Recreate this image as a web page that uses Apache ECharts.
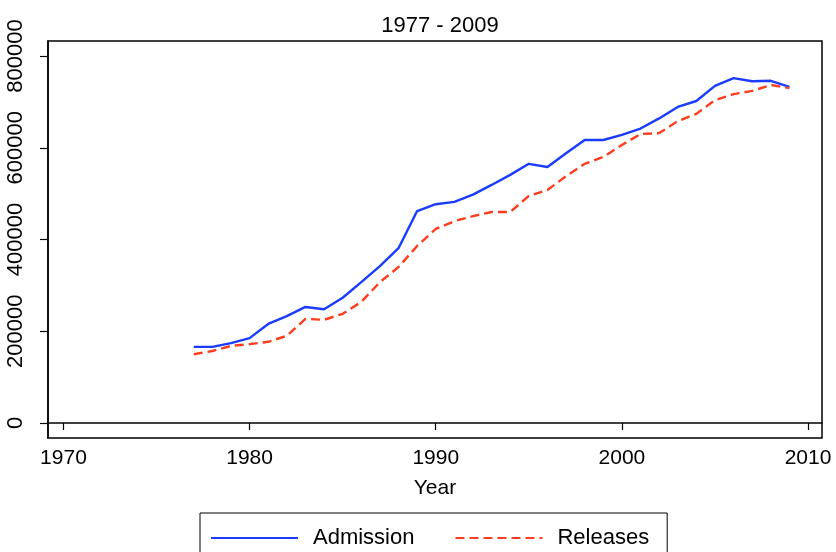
<!DOCTYPE html>
<html>
<head>
<meta charset="utf-8">
<script src="https://cdn.jsdelivr.net/npm/echarts@6/dist/echarts.min.js"></script>
<style>
  html, body { margin: 0; padding: 0; background: #fff; }
  #chart { width: 836px; height: 552px; }
</style>
</head>
<body>
<div id="chart"></div>
<script>
const years = [1977,1978,1979,1980,1981,1982,1983,1984,1985,1986,1987,1988,1989,
  1990,1991,1992,1993,1994,1995,1996,1997,1998,1999,
  2000,2001,2002,2003,2004,2005,2006,2007,2008,2009];
const admission = [166000,166000,174000,185000,216000,233000,253000,248000,273000,307000,342000,381000,462000,
  477000,482000,498000,519000,541000,565000,558000,588000,617000,617000,
  628000,642000,664000,689000,702000,735000,752000,745000,746000,733000];
const releases = [150000,157000,168000,172000,177000,190000,227000,225000,238000,264000,307000,340000,386000,
  423000,440000,451000,460000,460000,495000,508000,538000,565000,580000,
  606000,630000,632000,658000,674000,704000,717000,724000,737000,730000];
const xTicks = [1970,1980,1990,2000,2010];
const yTicks = [0,200000,400000,600000,800000];
const subtitle = '1977 - 2009';
const xName = 'Year';

const FONT = 'Liberation Sans, Arial, Helvetica, sans-serif';
const chart = echarts.init(document.getElementById('chart'), null, {renderer: 'canvas'});
chart.setOption({
  backgroundColor: '#fff',
  animation: false,
  title: {
    text: subtitle,
    left: 435, top: 10, textAlign: 'center',
    textStyle: {fontFamily: FONT, fontSize: 22, fontWeight: 'normal', color: '#000'}
  },
  grid: {
    left: 48, right: 14, top: 41, bottom: 114,
    show: true, borderColor: '#000', borderWidth: 1.5, backgroundColor: '#fff'
  },
  xAxis: {
    type: 'value',
    min: 1969.17, max: 2010.75,
    name: xName, nameLocation: 'middle', nameGap: 40,
    nameTextStyle: {fontFamily: FONT, fontSize: 21, color: '#000'},
    axisLine: {show: true, lineStyle: {color: '#000', width: 1.5}},
    axisTick: {show: true, length: 7, lineStyle: {color: '#000', width: 1.2}, customValues: xTicks},
    axisLabel: {fontFamily: FONT, fontSize: 21, color: '#000', margin: 10, customValues: xTicks,
      formatter: v => String(v)},
    splitLine: {show: false}
  },
  yAxis: {
    type: 'value',
    min: -32700, max: 832800,
    axisLine: {show: true, lineStyle: {color: '#000', width: 1.5}},
    axisTick: {show: true, length: 8, lineStyle: {color: '#000', width: 1.2}, customValues: yTicks},
    axisLabel: {fontFamily: FONT, fontSize: 22, color: '#000', rotate: 90, margin: 21, customValues: yTicks,
      formatter: v => String(v)},
    splitLine: {show: false}
  },
  legend: {
    left: 200, top: 513,
    orient: 'horizontal',
    borderColor: '#000', borderWidth: 1,
    padding: [14, 18, 20, 10],
    itemGap: 40,
    itemWidth: 87, itemHeight: 14,
    icon: 'inherit',
    itemStyle: {opacity: 0},
    textStyle: {fontFamily: FONT, fontSize: 22, color: '#000', padding: [0, 0, 0, 10]},
    data: ['Admission', 'Releases']
  },
  series: [
    {
      name: 'Admission', type: 'line', symbol: 'none', showSymbol: false,
      data: years.map((y, i) => [y, admission[i]]),
      lineStyle: {color: '#1a3cff', width: 2.4},
      itemStyle: {color: '#1a3cff'}
    },
    {
      name: 'Releases', type: 'line', symbol: 'none', showSymbol: false,
      data: years.map((y, i) => [y, releases[i]]),
      lineStyle: {color: '#ff3c1e', width: 2.4, type: [9, 5]},
      itemStyle: {color: '#ff3c1e'}
    }
  ]
});
</script>
</body>
</html>
